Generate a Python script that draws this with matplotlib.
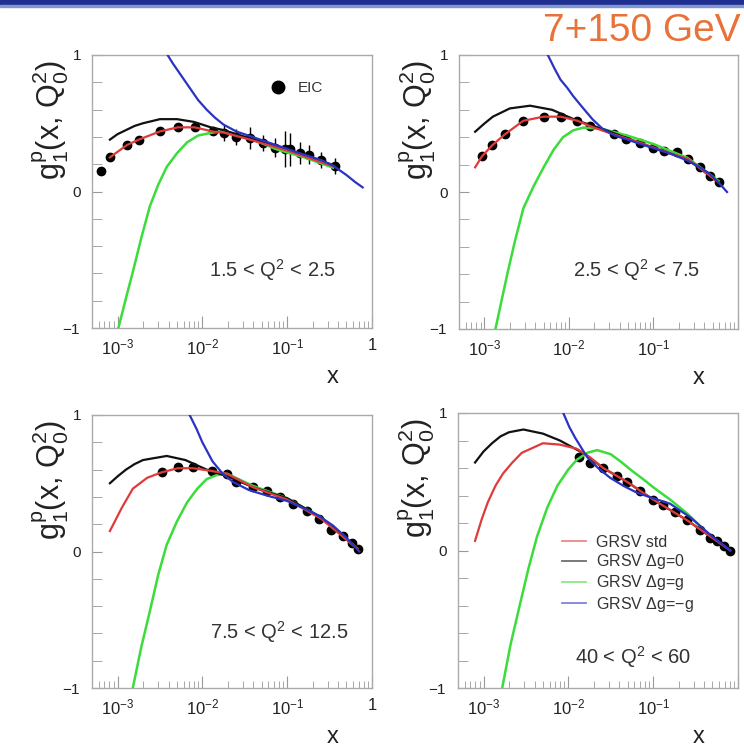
import numpy as np
import matplotlib.pyplot as plt
from matplotlib.patches import Rectangle
from matplotlib.lines import Line2D
from matplotlib.ticker import FixedLocator, FixedFormatter, MultipleLocator, LogLocator, NullFormatter

plt.rcParams['font.family'] = ['Liberation Sans', 'DejaVu Sans']
plt.rcParams['mathtext.fontset'] = 'custom'
plt.rcParams['mathtext.rm'] = 'Liberation Sans'
plt.rcParams['mathtext.it'] = 'Liberation Sans:italic'
plt.rcParams['mathtext.bf'] = 'Liberation Sans:bold'

# Q^2 bins, one per panel
q2_labels = ['1.5 < Q$^2$ < 2.5', '2.5 < Q$^2$ < 7.5',
             '7.5 < Q$^2$ < 12.5', '40 < Q$^2$ < 60']

# curves: log10(x) and g1p
# panel 1
p1_blue_lx = [-2.41, -2.35, -2.25, -2.15, -2.05, -1.95, -1.85, -1.75, -1.6, -1.41, -1.13,
              -0.85, -0.6, -0.46, -0.3, -0.2, -0.11]
p1_blue_y = [1.0, 0.94, 0.85, 0.76, 0.67, 0.60, 0.54, 0.49, 0.44, 0.40, 0.34,
             0.28, 0.23, 0.19, 0.12, 0.07, 0.03]
p1_black_lx = [-3.09, -3.0, -2.9, -2.8, -2.7, -2.5, -2.3, -2.1, -1.9, -1.75, -1.44, -1.0, -0.44]
p1_black_y = [0.38, 0.42, 0.45, 0.48, 0.50, 0.53, 0.53, 0.51, 0.47, 0.45, 0.39, 0.31, 0.19]
p1_red_lx = [-3.09, -2.89, -2.75, -2.5, -2.29, -2.09, -1.88, -1.74, -1.44, -1.0, -0.44]
p1_red_y = [0.25, 0.34, 0.38, 0.44, 0.47, 0.47, 0.44, 0.43, 0.38, 0.30, 0.18]
p1_green_lx = [-2.99, -2.9, -2.82, -2.72, -2.62, -2.52, -2.42, -2.3, -2.18, -2.05, -1.9,
               -1.76, -1.4, -1.13, -0.8, -0.46]
p1_green_y = [-1.0, -0.78, -0.59, -0.34, -0.11, 0.05, 0.18, 0.28, 0.36, 0.41, 0.43,
              0.44, 0.38, 0.31, 0.25, 0.175]
p1_pts_lx = [-3.2, -3.09, -2.89, -2.75, -2.5, -2.29, -2.09, -1.88,
             -1.74, -1.60, -1.44, -1.28, -1.14, -1.03, -0.97, -0.85, -0.74, -0.60, -0.44]
p1_pts_y = [0.15, 0.25, 0.34, 0.38, 0.44, 0.47, 0.47, 0.44,
            0.43, 0.40, 0.39, 0.355, 0.32, 0.31, 0.31, 0.28, 0.27, 0.23, 0.185]
p1_pts_err = [0.01, 0.01, 0.01, 0.01, 0.01, 0.01, 0.01, 0.02,
              0.06, 0.06, 0.08, 0.06, 0.07, 0.13, 0.12, 0.08, 0.07, 0.06, 0.06]

# panel 2
p2_blue_lx = [-2.25, -2.17, -2.1, -2.02, -1.95, -1.83, -1.72, -1.6, -1.45, -1.3, -1.0,
              -0.8, -0.6, -0.45, -0.35, -0.23, -0.13]
p2_blue_y = [1.0, 0.90, 0.82, 0.76, 0.70, 0.61, 0.53, 0.46, 0.41, 0.38, 0.32,
             0.28, 0.23, 0.18, 0.14, 0.07, 0.0]
p2_black_lx = [-3.11, -3.0, -2.9, -2.8, -2.7, -2.46, -2.2, -2.05, -1.9, -1.6, -1.3, -1.0, -0.6, -0.23]
p2_black_y = [0.44, 0.50, 0.55, 0.58, 0.61, 0.63, 0.60, 0.56, 0.52, 0.46, 0.39, 0.32, 0.24, 0.07]
p2_red_lx = [-3.11, -3.03, -2.91, -2.76, -2.54, -2.3, -2.1, -1.9, -1.75, -1.47, -1.16, -0.88, -0.59, -0.23]
p2_red_y = [0.18, 0.26, 0.34, 0.42, 0.52, 0.55, 0.55, 0.52, 0.48, 0.42, 0.36, 0.30, 0.24, 0.07]
p2_green_lx = [-2.87, -2.8, -2.73, -2.64, -2.54, -2.42, -2.3, -2.18, -2.07, -1.95, -1.83,
               -1.6, -1.3, -1.0, -0.6, -0.23]
p2_green_y = [-1.0, -0.8, -0.6, -0.36, -0.12, 0.04, 0.18, 0.31, 0.40, 0.45, 0.47,
              0.46, 0.41, 0.35, 0.25, 0.08]
p2_pts_lx = [-3.03, -2.91, -2.76, -2.54, -2.3, -2.1, -1.9, -1.75,
             -1.47, -1.32, -1.16, -1.0, -0.88, -0.72, -0.59, -0.45, -0.33, -0.23]
p2_pts_y = [0.26, 0.34, 0.42, 0.52, 0.55, 0.55, 0.52, 0.48,
            0.42, 0.385, 0.36, 0.32, 0.30, 0.29, 0.24, 0.18, 0.12, 0.07]

# panel 3
p3_blue_lx = [-2.15, -2.07, -2.0, -1.94, -1.88, -1.76, -1.64, -1.45, -1.24, -1.0, -0.85,
              -0.65, -0.46, -0.3, -0.15]
p3_blue_y = [1.0, 0.90, 0.80, 0.73, 0.66, 0.57, 0.51, 0.45, 0.41, 0.37, 0.33,
             0.27, 0.19, 0.10, 0.0]
p3_black_lx = [-3.09, -3.0, -2.9, -2.8, -2.7, -2.42, -2.2, -1.95, -1.7, -1.4, -1.0, -0.6, -0.17]
p3_black_y = [0.50, 0.55, 0.60, 0.64, 0.67, 0.70, 0.67, 0.60, 0.55, 0.47, 0.39, 0.25, 0.02]
p3_red_lx = [-3.09, -2.95, -2.82, -2.65, -2.48, -2.29, -2.11, -1.89, -1.71, -1.4, -1.0, -0.6, -0.17]
p3_red_y = [0.15, 0.32, 0.46, 0.54, 0.58, 0.61, 0.61, 0.59, 0.57, 0.47, 0.38, 0.24, 0.02]
p3_green_lx = [-2.82, -2.72, -2.62, -2.52, -2.42, -2.3, -2.18, -2.06, -1.95, -1.83, -1.71,
               -1.4, -1.0, -0.6, -0.17]
p3_green_y = [-1.0, -0.7, -0.44, -0.17, 0.05, 0.22, 0.36, 0.46, 0.53, 0.56, 0.57,
              0.48, 0.39, 0.25, 0.02]
p3_pts_lx = [-2.48, -2.29, -2.11, -1.89, -1.71, -1.60, -1.40, -1.24, -1.09,
             -0.93, -0.77, -0.62, -0.48, -0.34, -0.23, -0.17]
p3_pts_y = [0.58, 0.62, 0.62, 0.59, 0.57, 0.51, 0.47, 0.44, 0.40,
            0.35, 0.30, 0.24, 0.16, 0.11, 0.06, 0.02]

# panel 4
p4_blue_lx = [-2.06, -1.99, -1.92, -1.85, -1.78, -1.65, -1.51, -1.35, -1.19, -1.0, -0.8,
              -0.56, -0.3, -0.09]
p4_blue_y = [1.0, 0.90, 0.82, 0.75, 0.68, 0.60, 0.53, 0.47, 0.42, 0.38, 0.34,
             0.24, 0.10, 0.0]
p4_black_lx = [-3.1, -3.0, -2.9, -2.8, -2.7, -2.53, -2.3, -2.1, -1.98, -1.8, -1.59, -1.31,
               -1.0, -0.6, -0.09]
p4_black_y = [0.64, 0.72, 0.78, 0.83, 0.86, 0.88, 0.85, 0.80, 0.76, 0.70, 0.60, 0.50,
              0.37, 0.22, 0.0]
p4_red_lx = [-3.1, -3.02, -2.95, -2.86, -2.77, -2.66, -2.55, -2.3, -2.1, -1.9, -1.75, -1.59,
             -1.31, -1.0, -0.6, -0.09]
p4_red_y = [0.07, 0.23, 0.35, 0.47, 0.56, 0.64, 0.71, 0.78, 0.77, 0.74, 0.68, 0.60,
            0.50, 0.37, 0.22, 0.0]
p4_green_lx = [-2.78, -2.68, -2.57, -2.47, -2.37, -2.25, -2.13, -2.0, -1.9, -1.78, -1.66,
               -1.5, -1.39, -1.25, -1.1, -1.0, -0.8, -0.6, -0.45]
p4_green_y = [-1.0, -0.68, -0.39, -0.13, 0.10, 0.31, 0.47, 0.59, 0.66, 0.71, 0.73,
              0.70, 0.65, 0.58, 0.51, 0.46, 0.37, 0.27, 0.18]
p4_pts_lx = [-1.88, -1.74, -1.59, -1.43, -1.31, -1.15, -1.0, -0.88, -0.74,
             -0.60, -0.45, -0.33, -0.25, -0.17, -0.09]
p4_pts_y = [0.68, 0.64, 0.60, 0.54, 0.50, 0.43, 0.37, 0.33, 0.28,
            0.22, 0.15, 0.09, 0.07, 0.035, 0.0]

legend_labels = ['GRSV std', 'GRSV $\\Delta$g=0', 'GRSV $\\Delta$g=g', 'GRSV $\\Delta$g=$-$g']

panels = [
    (p1_blue_lx, p1_blue_y, p1_black_lx, p1_black_y, p1_red_lx, p1_red_y,
     p1_green_lx, p1_green_y, p1_pts_lx, p1_pts_y, p1_pts_err),
    (p2_blue_lx, p2_blue_y, p2_black_lx, p2_black_y, p2_red_lx, p2_red_y,
     p2_green_lx, p2_green_y, p2_pts_lx, p2_pts_y, [0.012] * len(p2_pts_y)),
    (p3_blue_lx, p3_blue_y, p3_black_lx, p3_black_y, p3_red_lx, p3_red_y,
     p3_green_lx, p3_green_y, p3_pts_lx, p3_pts_y, [0.012] * len(p3_pts_y)),
    (p4_blue_lx, p4_blue_y, p4_black_lx, p4_black_y, p4_red_lx, p4_red_y,
     p4_green_lx, p4_green_y, p4_pts_lx, p4_pts_y, [0.012] * len(p4_pts_y)),
]

# frame boxes in pixels (left, top, right, bottom)
W, H = 744, 749
boxes = [(92, 55, 372, 328), (459, 55, 738, 329), (92, 415, 372, 688), (458, 413, 738, 688)]

c_blue = '#2a33c4'
c_black = '#111111'
c_red = '#e03a3a'
c_green = '#3bdc3b'

fig = plt.figure(figsize=(W / 100, H / 100), dpi=100)

# top banner
fig.patches.append(Rectangle((0, 1 - 5 / H), 1, 5 / H, transform=fig.transFigure,
                             color='#1f2f8f', zorder=5))
fig.patches.append(Rectangle((0, 1 - 7 / H), 1, 2 / H, transform=fig.transFigure,
                             color='#8196d0', zorder=5))
fig.text(741 / W, 1 - 31 / H, '7+150 GeV', ha='right', va='center',
         color='#e8733a', fontsize=28)

for i, (box, data) in enumerate(zip(boxes, panels)):
    l, t, r, b = box
    ax = fig.add_axes([l / W, 1 - b / H, (r - l) / W, (b - t) / H])
    blx, by, klx, ky, rlx, ry, glx, gy, plx, py, perr = data

    # data points first, curves drawn over them
    ax.errorbar(10 ** np.array(plx), py, yerr=perr, fmt='o', color='black',
                ms=6, elinewidth=1.0, capsize=0, zorder=2)
    ax.plot(10 ** np.array(glx), gy, color=c_green, lw=1.8, zorder=3)
    ax.plot(10 ** np.array(klx), ky, color=c_black, lw=1.6, zorder=3)
    ax.plot(10 ** np.array(rlx), ry, color=c_red, lw=1.6, zorder=4)
    ax.plot(10 ** np.array(blx), by, color=c_blue, lw=1.6, zorder=4)

    ax.set_xscale('log')
    ax.set_xlim(5e-4, 1)
    ax.set_ylim(-1, 1)

    ax.xaxis.set_major_locator(FixedLocator([1e-3, 1e-2, 1e-1, 1]))
    xl = ['$10^{-3}$', '$10^{-2}$', '$10^{-1}$', '1' if i % 2 == 0 else '']
    ax.xaxis.set_major_formatter(FixedFormatter(xl))
    ax.xaxis.set_minor_locator(LogLocator(base=10, subs=np.arange(2, 10), numticks=20))
    ax.xaxis.set_minor_formatter(NullFormatter())
    ax.yaxis.set_major_locator(FixedLocator([-1, 0, 1]))
    ax.yaxis.set_major_formatter(FixedFormatter(['$-$1', '0', '1']))
    ax.yaxis.set_minor_locator(MultipleLocator(0.2))

    ax.tick_params(axis='both', which='both', direction='in', colors='#999999',
                   labelcolor='#222222')
    ax.tick_params(axis='x', which='major', length=9, pad=7, labelsize=12)
    ax.tick_params(axis='x', which='minor', length=5)
    ax.tick_params(axis='y', which='both', length=7, pad=8, labelsize=11)
    for s in ax.spines.values():
        s.set_color('#aaaaaa')
        s.set_linewidth(1.0)

    ax.set_ylabel('g$_1^{\\rm p}$(x, Q$_0^2$)', fontsize=22, color='#222222')
    ax.yaxis.set_label_coords(-21 / (r - l), 1 - 65 / (b - t))
    ax.text(0.86, -49 / (b - t), 'x', transform=ax.transAxes, ha='center',
            va='center', fontsize=17, color='#222222')

    # Q^2 bin
    qx = [273, 637, 279, 633][i]
    qy = [270, 270, 632, 657][i]
    ax.text((qx - l) / (r - l), 1 - (qy - t) / (b - t), q2_labels[i],
            transform=ax.transAxes, ha='center', va='center', fontsize=14.5,
            color='#333333')

    if i == 0:
        dot = Line2D([], [], ls='none', marker='o', ms=9, color='black')
        ax.legend([dot], ['EIC'], loc='center left',
                  bbox_to_anchor=((270 - l) / (r - l), 1 - (88 - t) / (b - t)),
                  frameon=False, handlelength=1.0, handletextpad=0.8, fontsize=11,
                  borderpad=0, borderaxespad=0, labelcolor='#333333')
    if i == 3:
        hs = [Line2D([], [], color=c, lw=1.3, alpha=0.6)
              for c in (c_red, c_black, c_green, c_blue)]
        ax.legend(hs, legend_labels, loc='upper left',
                  bbox_to_anchor=((562 - l) / (r - l), 1 - (535 - t) / (b - t)),
                  frameon=False, handlelength=1.5, handletextpad=0.6, fontsize=11.5,
                  labelspacing=0.14, borderpad=0, borderaxespad=0,
                  labelcolor='#333333')

fig.savefig('out.png', dpi=100)
